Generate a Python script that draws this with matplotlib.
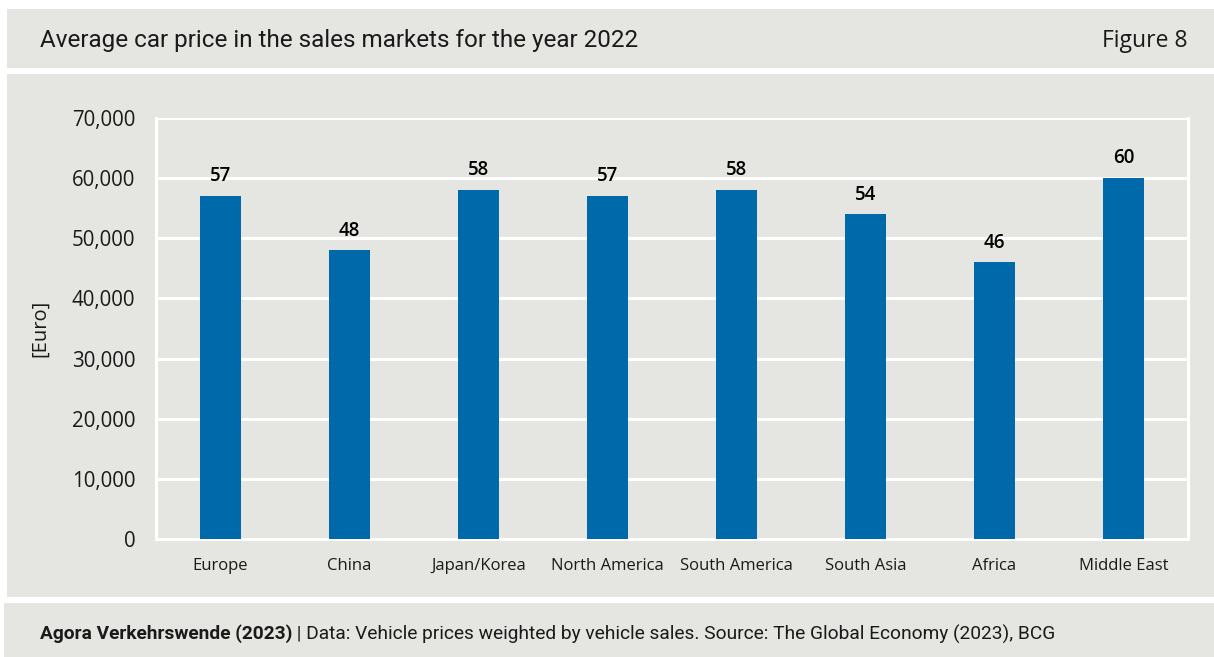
import matplotlib
matplotlib.use("Agg")
import matplotlib.pyplot as plt
from matplotlib.patches import Rectangle
from matplotlib.ticker import FuncFormatter, MultipleLocator
from matplotlib import font_manager

regions = ["Europe", "China", "Japan/Korea", "North America", "South America",
           "South Asia", "Africa", "Middle East"]
price_thousand_eur = [57, 48, 58, 57, 58, 54, 46, 60]

title = "Average car price in the sales markets for the year 2022"
figure_tag = "Figure 8"
source_bold = "Agora Verkehrswende (2023)"
source_rest = " | Data: Vehicle prices weighted by vehicle sales. Source: The Global Economy (2023), BCG"

installed = {f.name for f in font_manager.fontManager.ttflist}
narrow = "Liberation Sans Narrow" if "Liberation Sans Narrow" in installed else "Roboto"
body = "Open Sans"

PANEL = "#E5E5E1"
BAR = "#0069AA"
TEXT = "#1a1a1a"

fig = plt.figure(figsize=(12.14, 6.57), dpi=100)
fig.patch.set_facecolor("white")
W, H = 1214, 657

def px_rect(x0, y0, x1, y1):
    fig.patches.append(Rectangle((x0 / W, 1 - y1 / H), (x1 - x0) / W, (y1 - y0) / H,
                                 transform=fig.transFigure, facecolor=PANEL,
                                 edgecolor="none", zorder=-5))

px_rect(7, 9, W, 68)
px_rect(7, 74, W, 597)
px_rect(4, 603, W, H)

fig.text(40 / W, 1 - 41 / H, title, fontsize=17.5, family=narrow, color=TEXT,
         va="center", ha="left")
fig.text(1188 / W, 1 - 41 / H, figure_tag, fontsize=16.5, family=body, color=TEXT,
         va="center", ha="right")

ax = fig.add_axes([156 / W, 1 - 539 / H, (1188 - 156) / W, (539 - 118) / H])
ax.set_zorder(2)
ax.set_facecolor(PANEL)
values = [v * 1000 for v in price_thousand_eur]
x = range(len(regions))
bars = ax.bar(x, values, width=0.32, color=BAR, zorder=3)
for xi, v, lab in zip(x, values, price_thousand_eur):
    ax.annotate(f"{lab}", (xi, v), xytext=(0, 7), textcoords="offset points",
                ha="center", va="bottom", fontsize=13.5, family=body,
                fontweight="semibold", color="black")

ax.set_xlim(-0.5, len(regions) - 0.5)
ax.set_ylim(0, 70000)
ax.yaxis.set_major_locator(MultipleLocator(10000))
ax.yaxis.set_major_formatter(FuncFormatter(lambda v, p: f"{int(v):,}"))
ax.grid(axis="y", color="white", linewidth=2.2, zorder=1)
ax.set_axisbelow(True)
for side in ["left", "right", "bottom"]:
    ax.spines[side].set_color("white")
    ax.spines[side].set_linewidth(2.2)
ax.spines["top"].set_visible(False)
ax.tick_params(axis="y", length=0, pad=15, labelsize=14.8, labelcolor=TEXT)
ax.tick_params(axis="x", length=0, pad=14, labelsize=12, labelcolor=TEXT)
ax.set_xticks(list(x))
ax.set_xticklabels(regions, family=body)
for t in ax.get_yticklabels():
    t.set_family(body)
ax.set_ylabel("[Euro]", fontsize=14.5, family=body, color=TEXT)
ax.yaxis.set_label_coords(-106 / (1188 - 156), 0.5)

t1 = fig.text(40 / W, 1 - 634 / H, source_bold, fontsize=13.8, family=narrow,
              fontweight="bold", color=TEXT, va="center", ha="left")
fig.canvas.draw()
bb = t1.get_window_extent()
fig.text(bb.x1 / W, 1 - 634 / H, source_rest, fontsize=13.8, family=narrow,
         color=TEXT, va="center", ha="left")

fig.savefig("out.png", dpi=100, facecolor="white")
